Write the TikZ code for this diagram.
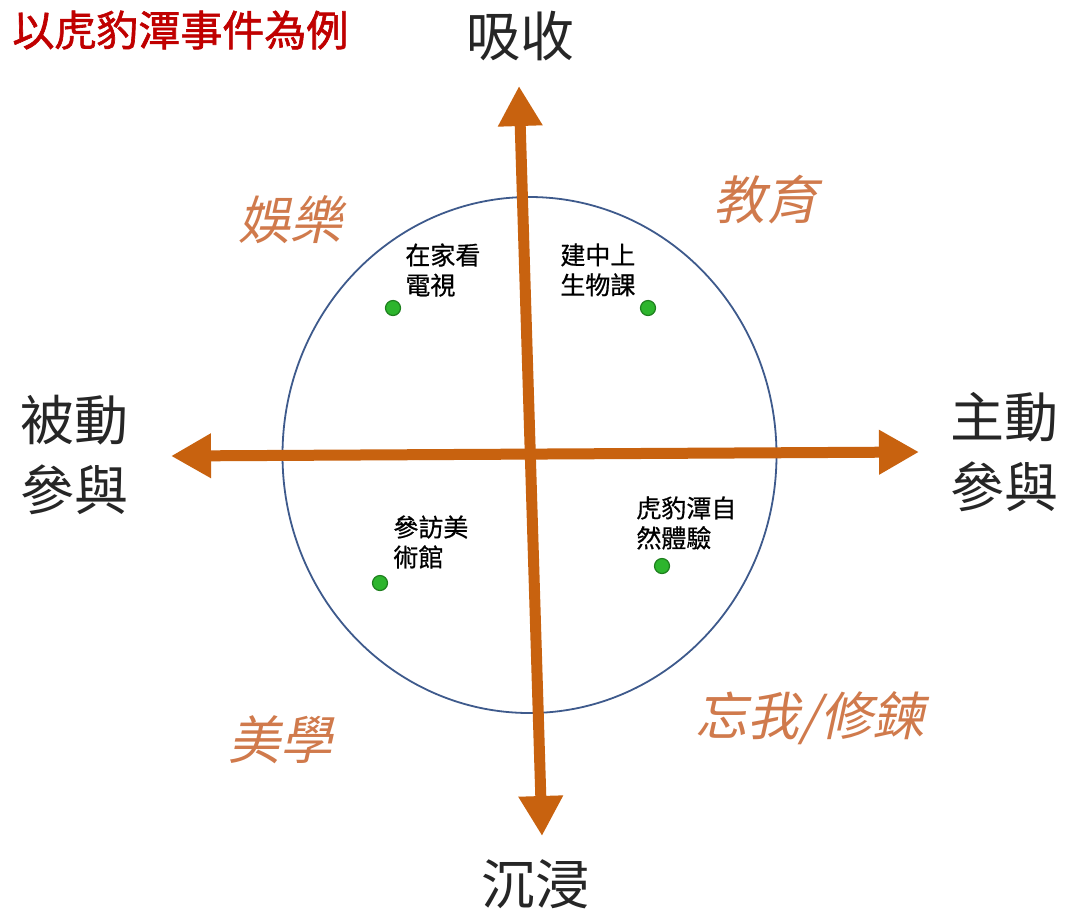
\documentclass[tikz,border=0pt]{standalone}
\usepackage{fontspec}
\setmainfont{Noto Sans CJK TC}
\newfontfamily\cjkit[FakeSlant=0.22]{Noto Sans CJK TC}
\newfontfamily\cjkb[FakeBold=1.5]{Noto Sans CJK TC}
\newfontfamily\cjksb[FakeBold=0.6]{Noto Sans CJK TC}
\usetikzlibrary{arrows.meta}
\definecolor{axiscol}{HTML}{C8620F}
\definecolor{quadcol}{HTML}{D07A4C}
\definecolor{circcol}{HTML}{3E5A8C}
\definecolor{titlecol}{HTML}{C00000}
\definecolor{dotfill}{HTML}{2DB52D}
\definecolor{dotline}{HTML}{1E7F1E}
\tikzset{
  axisline2/.style={draw=axiscol, line width=5.5pt, {Triangle[width=21pt,length=20pt]}-{Triangle[width=21pt,length=20pt]}},
  axislab/.style={font=\fontsize{27}{35}\selectfont, align=center, text=black!85},
  quadlab/.style={font=\cjkit\fontsize{26}{30}\selectfont, text=quadcol},
  smalllab/.style={font=\cjksb\fontsize{12.5}{15}\selectfont, align=left, text=black, anchor=north west, inner sep=0pt},
  dot/.style={circle, fill=dotfill, draw=dotline, line width=0.6pt, minimum size=7.5pt, inner sep=0pt},
}
\begin{document}
\begin{tikzpicture}[x=0.5pt,y=-0.5pt]
\useasboundingbox (0,0) rectangle (1076,923);
\fill[white] (0,0) rectangle (1076,923);
% circle
\draw[circcol, line width=0.9pt] (529.5,455) ellipse [x radius=247, y radius=258];
% axes
\coordinate (top) at (519,86);
\coordinate (bot) at (542,836);
\coordinate (lft) at (171,456);
\coordinate (rgt) at (919,452);
\draw[axisline2] (bot) -- (top);
\draw[axisline2] (lft) -- (rgt);
% axis labels
\node[axislab] (absorb) at (520,36) {吸收};
\node[axislab] (immerse) at (535,884) {沉浸};
\node[axislab] (passive) at (74,455) {被動\\參與};
\node[axislab] (active) at (1004,452) {主動\\參與};
% quadrant labels
\node[quadlab] (ent) at (290,220) {娛樂};
\node[quadlab] (edu) at (765,200) {教育};
\node[quadlab] (aes) at (280,740) {美學};
\node[quadlab] (esc) at (810,718) {忘我/修鍊};
% title
\node[font=\cjkb\fontsize{21}{24}\selectfont, text=titlecol, anchor=west, inner sep=0pt] (title) at (12,30) {以虎豹潭事件為例};
% examples
\node[smalllab] (tv) at (405,243) {在家看\\電視};
\node[smalllab] (bio) at (560,243) {建中上\\生物課};
\node[smalllab] (art) at (393,515) {參訪美\\術館};
\node[smalllab] (nat) at (636,496) {虎豹潭自\\然體驗};
\node[dot] (d1) at (393,308) {};
\node[dot] (d2) at (648,308) {};
\node[dot] (d3) at (380,583) {};
\node[dot] (d4) at (662,566) {};
\end{tikzpicture}
\end{document}
